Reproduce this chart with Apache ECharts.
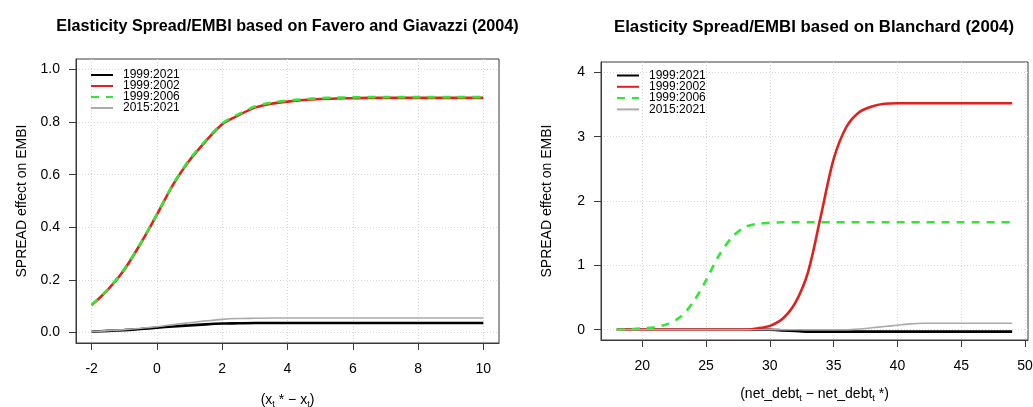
<!DOCTYPE html>
<html>
<head>
<meta charset="utf-8">
<script src="https://cdn.jsdelivr.net/npm/echarts@6/dist/echarts.min.js"></script>
<style>html,body{margin:0;padding:0;background:#fff;}#c{width:1033px;height:407px;}</style>
</head>
<body>
<div id="c"></div>
<script>
// ---------- Data ----------
const seriesNames = ['1999:2021', '1999:2002', '1999:2006', '2015:2021'];

// Left panel: Favero and Giavazzi (2004)
const leftX = [-2,-1.5,-1,-0.5,0,0.5,1,1.5,2,2.5,3,3.5,4,4.5,5,5.5,6,6.5,7,7.5,8,8.5,9,9.5,10];
const left1999_2021 = [0.003,0.006,0.009,0.013,0.018,0.023,0.027,0.031,0.034,0.035,0.036,0.036,0.036,0.036,0.036,0.036,0.036,0.036,0.036,0.036,0.036,0.036,0.036,0.036,0.036];
const left1999_2002 = [0.104,0.163,0.239,0.338,0.448,0.563,0.655,0.728,0.792,0.826,0.855,0.870,0.878,0.884,0.888,0.890,0.891,0.892,0.892,0.892,0.892,0.892,0.892,0.892,0.892];
const left1999_2006 = [0.105,0.165,0.241,0.340,0.450,0.565,0.658,0.731,0.795,0.830,0.859,0.874,0.882,0.887,0.891,0.893,0.894,0.895,0.895,0.895,0.895,0.895,0.895,0.895,0.895];
const left2015_2021 = [0.003,0.007,0.011,0.016,0.022,0.030,0.037,0.044,0.050,0.053,0.054,0.055,0.055,0.055,0.055,0.055,0.055,0.055,0.055,0.055,0.055,0.055,0.055,0.055,0.055];

// Right panel: Blanchard (2004)
const rightX = [18,19,20,21,22,23,24,25,26,27,28,29,30,31,32,33,34,35,36,37,38,39,40,41,42,43,44,45,46,47,48,49];
const right1999_2021 = [0,0,0,0,0,0,0,0,0,0,0,0,0,-0.01,-0.02,-0.03,-0.03,-0.03,-0.03,-0.03,-0.03,-0.03,-0.03,-0.03,-0.03,-0.03,-0.03,-0.03,-0.03,-0.03,-0.03,-0.03];
const right1999_2002 = [0,0,0,0,0,0,0,0,0,0,0,0.02,0.06,0.17,0.42,0.90,1.77,2.65,3.15,3.38,3.47,3.51,3.52,3.52,3.52,3.52,3.52,3.52,3.52,3.52,3.52,3.52];
const right1999_2006 = [0,0.005,0.02,0.04,0.09,0.20,0.43,0.77,1.15,1.43,1.59,1.645,1.66,1.67,1.67,1.67,1.67,1.67,1.67,1.67,1.67,1.67,1.67,1.67,1.67,1.67,1.67,1.67,1.67,1.67,1.67,1.67];
const right2015_2021 = [0,0,0,0,0,0,0,0,0,0,0,0,0,0,0,0,0,0,0,0.01,0.03,0.05,0.07,0.09,0.10,0.10,0.10,0.10,0.10,0.10,0.10,0.10];

// Tick labels
const leftXTicks = [-2,0,2,4,6,8,10];
const leftYTicks = [0,0.2,0.4,0.6,0.8,1.0];
const rightXTicks = [20,25,30,35,40,45,50];
const rightYTicks = [0,1,2,3,4];

const titles = ['Elasticity Spread/EMBI based on Favero and Giavazzi (2004)', 'Elasticity Spread/EMBI based on Blanchard (2004)'];
const yName = 'SPREAD effect on EMBI';

// ---------- Styling ----------
const FONT = '"Liberation Sans", Arial, sans-serif';
const AX = '#3a3a3a';
const styles = [
  {color:'#000000', width:2.6, type:'solid'},
  {color:'#e0201c', width:2.6, type:'solid'},
  {color:'#33e633', width:2.6, type:[8,7]},
  {color:'#aaaaaa', width:1.6, type:'solid'}
];

function zip(xs, ys){ return xs.map((x,i)=>[x, ys[i]]); }

function xAxis(gi, min, max, ticks, name, gap){
  return {
    type:'value', gridIndex:gi, min:min, max:max,
    axisLine:{show:true, onZero:false, lineStyle:{color:AX, width:1}},
    axisTick:{show:true, inside:false, length:7, lineStyle:{color:AX, width:1}, customValues:ticks},
    axisLabel:{customValues:ticks, margin:19, color:'#000', fontSize:14, fontFamily:FONT},
    splitLine:{show:true, lineStyle:{color:'#d8d8d8', type:[1,2], width:1}},
    name:name, nameLocation:'middle', nameGap:gap,
    nameTextStyle:{
      fontFamily:FONT, color:'#000',
      rich:{
        n:{fontSize:14, fontFamily:FONT, color:'#000', lineHeight:18, verticalAlign:'middle'},
        s:{fontSize:9, fontFamily:FONT, color:'#000', lineHeight:18, verticalAlign:'bottom'}
      }
    }
  };
}
function yAxis(gi, min, max, ticks, fmt){
  return {
    type:'value', gridIndex:gi, min:min, max:max,
    axisLine:{show:true, onZero:false, lineStyle:{color:AX, width:1}},
    axisTick:{show:true, inside:false, length:7, lineStyle:{color:AX, width:1}, customValues:ticks},
    axisLabel:{customValues:ticks, margin:16, color:'#000', fontSize:14, fontFamily:FONT, formatter:fmt},
    splitLine:{show:true, lineStyle:{color:'#d8d8d8', type:[1,2], width:1}},
    name:yName, nameLocation:'middle', nameGap:47,
    nameTextStyle:{fontSize:14, fontFamily:FONT, color:'#000'}
  };
}

const leftData = [left1999_2021, left1999_2002, left1999_2006, left2015_2021];
const rightData = [right1999_2021, right1999_2002, right1999_2006, right2015_2021];

const series = [];
[0,1,2,3].forEach(i=>{
  series.push({name:seriesNames[i], type:'line', xAxisIndex:0, yAxisIndex:0, data:zip(leftX, leftData[i]),
    symbol:'none', smooth:0.3, lineStyle:styles[i], itemStyle:{color:styles[i].color}, z:2+i, animation:false});
});
[0,1,2,3].forEach(i=>{
  series.push({name:seriesNames[i], type:'line', xAxisIndex:1, yAxisIndex:1, data:zip(rightX, rightData[i]),
    symbol:'none', smooth:0.3, lineStyle:styles[i], itemStyle:{color:styles[i].color}, z:2+i, animation:false});
});

function legend(left, top, gap){
  return {
    orient:'vertical', left:left, top:top, itemWidth:22, itemHeight:10, itemGap:gap, padding:0,
    data:seriesNames, selectedMode:false,
    itemStyle:{opacity:0, borderWidth:0},
    textStyle:{fontSize:12, fontFamily:FONT, color:'#000', lineHeight:10, padding:[0,0,0,5]}
  };
}

const chart = echarts.init(document.getElementById('c'), null, {renderer:'canvas'});
chart.setOption({
  animation:false,
  backgroundColor:'#fff',
  grid:[
    {left:76, top:59, width:423, height:284, show:true, borderColor:AX, borderWidth:1, backgroundColor:'transparent', containLabel:false, outerBoundsMode:'none'},
    {left:601, top:62, width:427, height:278, show:true, borderColor:AX, borderWidth:1, backgroundColor:'transparent', containLabel:false, outerBoundsMode:'none'}
  ],
  xAxis:[
    xAxis(0, -2.48, 10.48, leftXTicks, '{n|(x}{s|t}{n| * − x}{s|t}{n|)}', 48),
    xAxis(1, 16.76, 50.24, rightXTicks, '{n|(net_debt}{s|t}{n| − net_debt}{s|t}{n| *)}', 45)
  ],
  yAxis:[
    yAxis(0, -0.04, 1.04, leftYTicks, v=>v.toFixed(1)),
    yAxis(1, -0.16, 4.16, rightYTicks, v=>String(v))
  ],
  legend:[legend(90, 69, -1), legend(616, 69.5, -0.7)],
  graphic:[
    {type:'text', x:287.5, y:27, style:{text:titles[0], font:'bold 16.2px "Liberation Sans", Arial, sans-serif', fill:'#000', textAlign:'center', textVerticalAlign:'middle'}},
    {type:'text', x:814, y:27, style:{text:titles[1], font:'bold 16.8px "Liberation Sans", Arial, sans-serif', fill:'#000', textAlign:'center', textVerticalAlign:'middle'}}
  ],
  series:series
});
</script>
</body>
</html>
